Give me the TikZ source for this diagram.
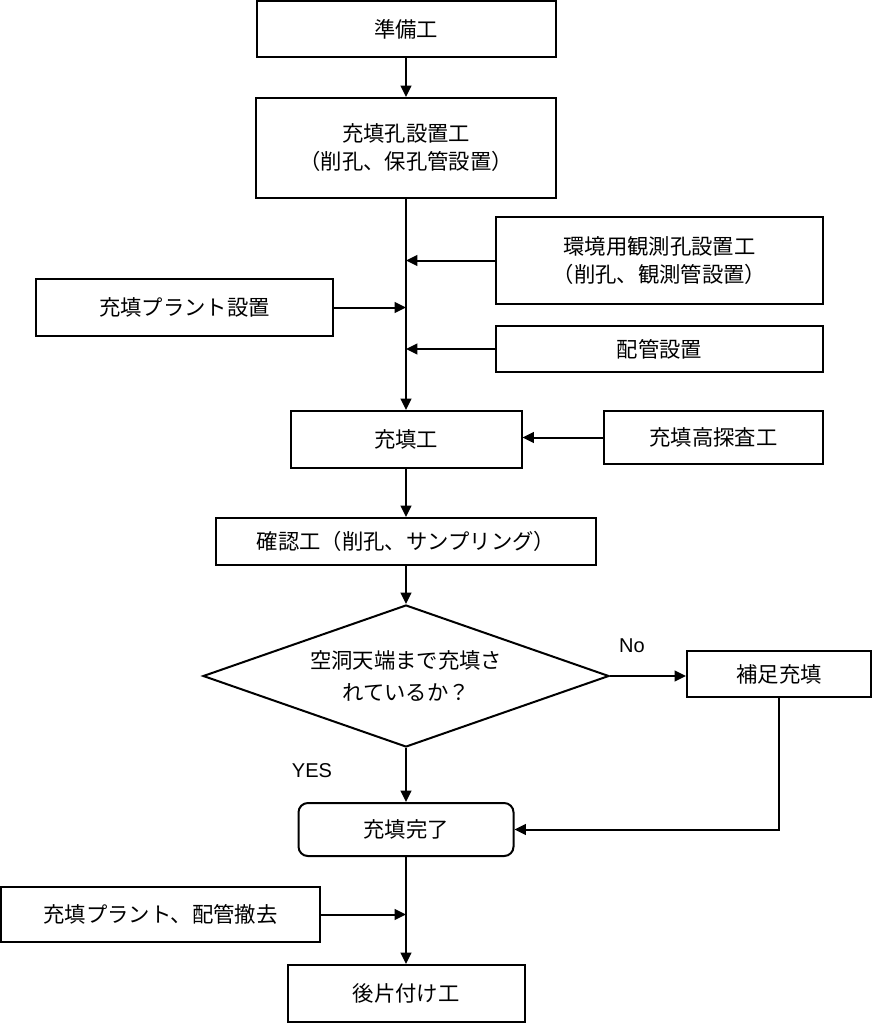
\documentclass[tikz,border=0pt]{standalone}
\usepackage{fontspec}
\setmainfont{Noto Sans CJK JP}
\newfontfamily\latinsans{Liberation Sans}
\usetikzlibrary{shapes.geometric,arrows.meta}
\begin{document}
\begin{tikzpicture}[x=0.75pt,y=-0.75pt,
  box/.style={draw, line width=1.5pt, rectangle, inner sep=0pt, align=center,
    font=\fontsize{16}{21}\selectfont},
  wh/.style 2 args={minimum width=#1*0.75pt, minimum height=#2*0.75pt},
  dia/.style={draw, line width=1.5pt, diamond, inner sep=0pt, aspect=2.86, align=center,
    minimum width=406*0.75pt, minimum height=142*0.75pt,
    font=\fontsize{16}{24}\selectfont},
  arr/.style={line width=1.5pt, -{Triangle[length=8.5pt,width=8pt]}},
  lbl/.style={font=\latinsans\fontsize{15}{18}\selectfont, inner sep=0pt}]
\useasboundingbox (0,0) rectangle (872,1024);
\node[box, wh={299}{56}] (prep) at (406,29) {準備工};
\node[box, wh={300}{100}] (hole) at (406,148) {充填孔設置工\\（削孔、保孔管設置）};
\node[box, wh={327}{87}] (env) at (659.5,260.5) {環境用観測孔設置工\\（削孔、観測管設置）};
\node[box, wh={297}{57}] (plant) at (184.5,307.5) {充填プラント設置};
\node[box, wh={327}{46}] (pipe) at (659.5,349) {配管設置};
\node[box, wh={231}{57}] (fill) at (406,439.5) {充填工};
\node[box, wh={219}{53}] (probe) at (713.5,437.5) {充填高探査工};
\node[box, wh={380}{47}] (check) at (406,541.5) {確認工（削孔、サンプリング）};
\node[dia] (q) at (406,676) {空洞天端まで充填さ\\れているか？};
\node[box, wh={184}{46}] (supp) at (779,674) {補足充填};
\node[box, wh={215}{53}, rounded corners=7pt] (done) at (406,829.5) {充填完了};
\node[box, wh={319}{55}] (rem) at (160.5,914.5) {充填プラント、配管撤去};
\node[box, wh={237}{57}] (clean) at (406,993.5) {後片付け工};
\node[lbl] (no) at (632,646) {No};
\node[lbl] (yes) at (312,771) {YES};
\draw[arr] (prep) -- (hole);
\draw[arr] (hole) -- (fill);
\draw[arr] (env.west) -- (env.west -| hole.south);
\draw[arr] (plant.east) -- (plant.east -| hole.south);
\draw[arr] (pipe.west) -- (pipe.west -| hole.south);
\draw[arr] (probe.west) -- (probe.west -| fill.east);
\draw[arr] (fill) -- (check);
\draw[arr] (check) -- (q);
\draw[arr] (q.east) -- (q.east -| supp.west);
\draw[arr] (q) -- (done);
\draw[arr] (supp.south) |- (done.east);
\draw[arr] (done) -- (clean);
\draw[arr] (rem.east) -- (rem.east -| done.south);
\end{tikzpicture}
\end{document}
